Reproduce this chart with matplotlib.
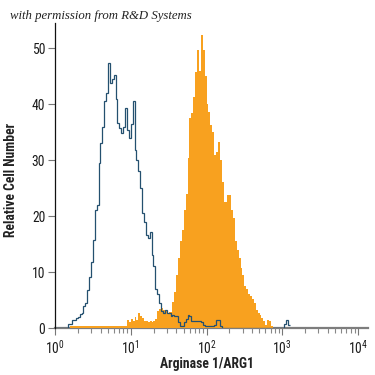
import numpy as np
import matplotlib
matplotlib.use("Agg")
import matplotlib.pyplot as plt
from matplotlib import font_manager
from matplotlib.ticker import FixedLocator, LogLocator, NullFormatter

# ---- data: histogram channel counts (40 channels per decade, starting at 10^0) ----
channels_per_decade = 40

isotype_counts = [
    0, 0, 0, 0, 0, 0, 0,                       # ch 0-6
    0.8, 0.8, 1.4, 1.4, 1.7, 2.0, 2.5, 2.7,    # ch 7-14
    4.0, 4.4, 6.8, 9.2, 11.8, 15.7, 21, 22,    # ch 15-22
    29.5, 33, 36, 40.5, 42, 47.3, 43.7, 44.5,  # ch 23-30
    45.2, 41, 36.6, 35.7, 34.8, 36, 39.3, 35.4,  # ch 31-38
    34, 36.5, 40.5, 31.8, 30, 28, 25, 20.5,    # ch 39-46
    19, 16.6, 16, 17.2, 13, 11, 7, 6,          # ch 47-54
    4.5, 3.0, 2.6, 3.2, 2.6, 2.6, 2.2, 2.3,    # ch 55-62
    2.1, 2.2, 1.0, 0.3, 0.4, 1.0, 1.6, 2.3,    # ch 63-70
    2.2, 1.2, 1.3, 1.2, 1.2, 1.3, 1.1, 0.6,    # ch 71-78
    0.3, 0.3, 0.3, 0.3, 0.3, 0.6, 1.4, 1.4,    # ch 79-86
    0.3,                                       # ch 87
    0, 0, 0, 0, 0, 0, 0, 0, 0, 0, 0,           # ch 88-98
    0, 0, 0, 0, 0, 0, 0, 0, 0, 0, 0,           # ch 99-109
    0, 0, 0, 0, 0, 0, 0, 0, 0, 0, 0,           # ch 110-120
    0.8, 1.5, 0.5,                             # ch 121-123
]

arg1_counts = [
    0, 0, 0, 0, 0, 0, 0, 0,                    # ch 0-7
    0.4, 0.4, 0.4, 0.4, 0.4, 0.4, 0.4, 0.4, 0.4, 0.4,   # ch 8-17
    0.4, 0.4, 0.4, 0.4, 0.4, 0.4, 0.4, 0.4, 0.4, 0.4,   # ch 18-27
    0.4, 0.4, 0.4, 0.4, 0.4, 0.4, 0.4, 0.4, 0.4, 0.4,   # ch 28-37
    1.4, 1.0, 1.6, 1.3, 1.9, 1.5, 2.6, 2.2,    # ch 38-45
    1.8, 1.3, 1.2, 1.0, 1.2, 1.1, 1.3, 1.6,    # ch 46-53
    3.0, 3.4, 3.6, 3.2, 3.0, 2.7, 2.8, 2.8,    # ch 54-61
    4.7, 6.5, 9.5, 12.5, 15.5, 17.5, 21, 24,   # ch 62-69
    30.3, 37.5, 38.5, 41.3, 45.8, 49.6, 46, 52.3,  # ch 70-77
    49.6, 45, 40, 38.6, 36.2, 35, 31, 31.5,    # ch 78-85
    33.3, 30, 26, 22.5, 22.5, 23.7, 23.7, 21,  # ch 86-93
    19.6, 15.5, 14, 12.5, 10.7, 9.5, 7.5, 7,   # ch 94-101
    6, 5.7, 5.2, 4.5, 3.2, 2.6, 2.3, 1.8,      # ch 102-109
    1.2, 0.6, 1.4, 1.2, 0.4,                   # ch 110-114
]

y_ticks = [0, 10, 20, 30, 40, 50]
x_ticks = [1, 10, 100, 1000, 10000]
x_tick_labels = [r"$10^{0}$", r"$10^{1}$", r"$10^{2}$", r"$10^{3}$", r"$10^{4}$"]

# ---- fonts: prefer a narrow/condensed sans if one is installed ----
names = {f.name for f in font_manager.fontManager.ttflist}
narrow = None
for cand in ("Liberation Sans Narrow", "Roboto Condensed", "Open Sans Condensed",
             "DejaVu Sans Condensed", "Noto Sans Condensed"):
    if cand in names:
        narrow = cand
        break
base = narrow if narrow else "Liberation Sans"
plt.rcParams["font.family"] = [base, "DejaVu Sans"]
plt.rcParams["mathtext.fontset"] = "custom"
plt.rcParams["mathtext.rm"] = base
plt.rcParams["mathtext.it"] = base
plt.rcParams["mathtext.bf"] = base + ":bold"

W = H = 375
fig = plt.figure(figsize=(3.75, 3.75), dpi=100)
fig.patch.set_facecolor("white")
ax = fig.add_axes([55 / W, 47 / H, 313 / W, 305 / H])

iso = np.array(isotype_counts, dtype=float)
arg = np.array(arg1_counts, dtype=float)
iso_edges = 10 ** (np.arange(len(iso) + 1) / channels_per_decade)
arg_edges = 10 ** (np.arange(len(arg) + 1) / channels_per_decade)

ax.stairs(arg, arg_edges, fill=True, color="#f8a11f", linewidth=0, zorder=2)
ax.stairs(iso, iso_edges, color="#24506f", linewidth=0.9, zorder=3, baseline=None)

ax.set_xscale("log")
ax.set_xlim(1, 10 ** (313 / 75.75))
ax.set_ylim(0, 54.5)

for s in ("top", "right"):
    ax.spines[s].set_visible(False)
ax.spines["left"].set_color("#111111")
ax.spines["left"].set_linewidth(0.9)
ax.spines["bottom"].set_color("#7d7d7d")
ax.spines["bottom"].set_linewidth(1.6)
ax.spines["bottom"].set_zorder(1.5)

tick_size = 9.8 if narrow else 8.5
ax.yaxis.set_major_locator(FixedLocator(y_ticks))
ax.set_yticklabels([str(v) for v in y_ticks])
ax.tick_params(axis="y", length=5, width=0.8, color="#777777", pad=2,
               labelsize=tick_size, labelcolor="#1a1a1a")

ax.xaxis.set_major_locator(FixedLocator(x_ticks))
ax.set_xticklabels(x_tick_labels)
ax.xaxis.set_minor_locator(LogLocator(base=10, subs=np.arange(2, 10), numticks=20))
ax.xaxis.set_minor_formatter(NullFormatter())
ax.tick_params(axis="x", which="major", length=5, width=0.8, color="#777777",
               pad=3, labelsize=tick_size, labelcolor="#1a1a1a")
ax.tick_params(axis="x", which="minor", length=3.5, width=0.8, color="#888888")

fig.text(11 / W, 1 - 180 / H, "Relative Cell Number", rotation=90,
         ha="center", va="center", fontsize=(9.8 if narrow else 9),
         fontweight="bold", color="#222222")
fig.text(207 / W, 1 - 364 / H, "Arginase 1/ARG1", ha="center", va="center",
         fontsize=(9.8 if narrow else 9), fontweight="bold", color="#222222")
fig.text(10 / W, 1 - 19 / H, "with permission from R&D Systems",
         ha="left", va="baseline", fontsize=9.2, style="italic",
         family=["Liberation Serif", "DejaVu Serif"], color="#222222")

fig.savefig("out.png", dpi=100, facecolor="white")
